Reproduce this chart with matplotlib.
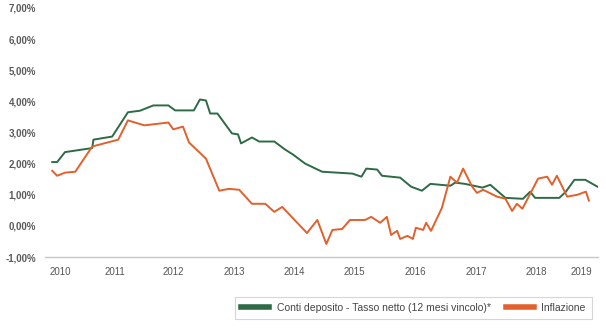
import matplotlib.pyplot as plt
from matplotlib.ticker import FuncFormatter

plt.rcParams["font.family"] = ["Liberation Sans", "DejaVu Sans"]

# === Data (decimal-year positions, values in %) ===
deposit_x = [2009.87, 2009.95, 2010.08, 2010.53, 2010.55, 2010.86, 2011.12, 2011.32,
             2011.54, 2011.79, 2011.90, 2012.21, 2012.31, 2012.41, 2012.48, 2012.60,
             2012.84, 2012.94, 2012.99, 2013.17, 2013.29, 2013.54, 2013.72, 2013.85,
             2014.05, 2014.33, 2014.83, 2014.98, 2015.06, 2015.24, 2015.32, 2015.62,
             2015.80, 2015.98, 2016.12, 2016.45, 2016.53, 2016.69, 2016.98, 2017.11,
             2017.36, 2017.65, 2017.77, 2017.85, 2018.25, 2018.36, 2018.50, 2018.68,
             2018.88]
deposit_rate = [2.05, 2.05, 2.37, 2.50, 2.77, 2.87, 3.65, 3.70,
                3.87, 3.87, 3.71, 3.71, 4.06, 4.03, 3.61, 3.61,
                2.97, 2.94, 2.65, 2.84, 2.71, 2.71, 2.45, 2.29,
                2.00, 1.74, 1.68, 1.58, 1.84, 1.81, 1.61, 1.55,
                1.26, 1.13, 1.35, 1.29, 1.39, 1.35, 1.23, 1.32,
                0.90, 0.87, 1.10, 0.90, 0.90, 1.10, 1.48, 1.48,
                1.26]

inflation_x = [2009.87, 2009.95, 2010.08, 2010.25, 2010.53, 2010.96, 2011.12, 2011.39,
               2011.79, 2011.87, 2012.03, 2012.13, 2012.41, 2012.63, 2012.79, 2012.96,
               2013.17, 2013.39, 2013.54, 2013.67, 2014.08, 2014.25, 2014.40, 2014.50,
               2014.66, 2014.79, 2015.04, 2015.14, 2015.29, 2015.40, 2015.47, 2015.57,
               2015.62, 2015.74, 2015.83, 2015.88, 2016.00, 2016.05, 2016.13, 2016.31,
               2016.45, 2016.56, 2016.66, 2016.81, 2016.89, 2016.99, 2017.22, 2017.36,
               2017.47, 2017.55, 2017.64, 2017.90, 2018.05, 2018.13, 2018.21, 2018.38,
               2018.55, 2018.69, 2018.74]
inflation = [1.77, 1.61, 1.71, 1.74, 2.55, 2.77, 3.39, 3.23,
             3.32, 3.10, 3.19, 2.68, 2.16, 1.13, 1.19, 1.16,
             0.71, 0.71, 0.45, 0.61, -0.23, 0.19, -0.58, -0.13,
             -0.10, 0.19, 0.19, 0.29, 0.10, 0.29, -0.29, -0.16,
             -0.42, -0.32, -0.42, -0.06, -0.13, 0.10, -0.16, 0.58,
             1.58, 1.39, 1.84, 1.26, 1.06, 1.16, 0.94, 0.87,
             0.48, 0.71, 0.55, 1.52, 1.58, 1.32, 1.61, 0.94,
             1.00, 1.10, 0.81]

year_ticks = [2010.0, 2010.91, 2011.87, 2012.88, 2013.87, 2014.86, 2015.87, 2016.88,
              2017.87, 2018.61]
year_labels = ["2010", "2011", "2012", "2013", "2014", "2015", "2016", "2017",
               "2018", "2019"]

GREEN = "#2d6a45"
ORANGE = "#e2602c"

fig = plt.figure(figsize=(6.06, 3.29), dpi=100)
ax = fig.add_axes([0.0743, 0.2188, 0.9125, 0.7569])

ax.plot(deposit_x, deposit_rate, color=GREEN, lw=1.4,
        label="Conti deposito - Tasso netto (12 mesi vincolo)*")
ax.plot(inflation_x, inflation, color=ORANGE, lw=1.4, label="Inflazione")

ax.set_xlim(2009.75, 2018.89)
ax.set_ylim(-1, 7)
ax.set_yticks(range(-1, 8))
ax.yaxis.set_major_formatter(FuncFormatter(lambda v, _: f"{v:.2f}%".replace(".", ",")))
ax.set_xticks(year_ticks)
ax.set_xticklabels(year_labels)

for side in ["top", "right", "left"]:
    ax.spines[side].set_visible(False)
ax.spines["bottom"].set_color("#c8c8c8")
ax.spines["bottom"].set_linewidth(1.0)

ax.tick_params(axis="y", length=0, pad=6.5, labelsize=7, labelcolor="#5a5a5a")
ax.tick_params(axis="x", length=0, pad=7, labelsize=7, labelcolor="#555555")
for lbl in ax.get_yticklabels():
    lbl.set_fontweight("bold")

leg = fig.legend(loc="center", bbox_to_anchor=(413.5 / 606, 1 - 308 / 329),
                 ncol=2, fontsize=7.5, frameon=True, fancybox=False,
                 handlelength=2.7, handletextpad=0.7, columnspacing=1.45,
                 borderpad=0.6)
leg.get_frame().set_edgecolor("#cccccc")
leg.get_frame().set_linewidth(0.8)
for line in leg.get_lines():
    line.set_linewidth(4)
for txt in leg.get_texts():
    txt.set_color("#444444")

fig.savefig("out.png", dpi=100)
